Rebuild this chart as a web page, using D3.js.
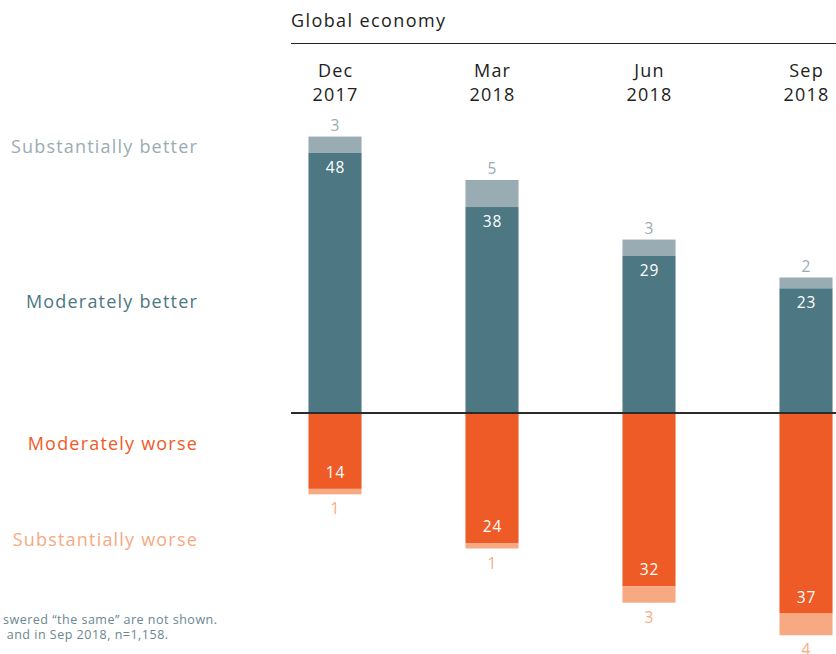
<!DOCTYPE html>
<html><head><meta charset="utf-8">
<script src="https://cdn.jsdelivr.net/npm/d3@7"></script>
<style>body{margin:0;background:#fff}svg{display:block;font-family:"Open Sans","Noto Sans",sans-serif}</style>
</head><body><svg id="c" width="836" height="654"></svg>
<script>
const periods = ["Dec\n2017", "Mar\n2018", "Jun\n2018", "Sep\n2018"];
const substBetter = [3, 5, 3, 2];
const modBetter = [48, 38, 29, 23];
const modWorse = [14, 24, 32, 37];
const substWorse = [1, 1, 3, 4];
const legendLabels = ["Substantially better", "Moderately better", "Moderately worse", "Substantially worse"];
const title = "Global economy";
const notes = ["swered \u201cthe same\u201d are not shown.", " and in Sep 2018, n=1,158."];

const C = {sb:"#9aacb3", mb:"#4c7783", mw:"#ef5b27", sw:"#f7a982", text:"#222"};
const svg = d3.select("#c");
const x = d3.scaleBand().domain(periods).range([256.5, 884.5]).paddingInner(0.662).paddingOuter(0.331);
const y = d3.scaleLinear().domain([0, 50]).range([413, 142]);

// title
svg.append("text").attr("x", 291).attr("y", 27).attr("font-size", 18).attr("letter-spacing", 1.4).attr("fill", C.text).text(title);
svg.append("line").attr("x1", 291).attr("x2", 836).attr("y1", 43.5).attr("y2", 43.5).attr("stroke", "#222").attr("stroke-width", 1);

// column labels
periods.forEach(p => {
  const t = svg.append("text").attr("text-anchor", "middle").attr("font-size", 18).attr("letter-spacing", 1.2).attr("fill", C.text);
  p.split("\n").forEach((s, i) => t.append("tspan").attr("x", x(p) + x.bandwidth()/2 + 0.6).attr("y", 77 + i*24).text(s));
});

const g = svg.append("g").attr("font-size", 15.5).attr("letter-spacing", 0.8).attr("text-anchor", "middle");
periods.forEach((p, i) => {
  const bx = x(p), bw = x.bandwidth(), cx = bx + bw/2 + 0.4;
  const yMB = y(modBetter[i]), ySB = y(modBetter[i] + substBetter[i]);
  const yMW = y(-modWorse[i]), ySW = y(-modWorse[i] - substWorse[i]);
  g.append("rect").attr("x", bx).attr("width", bw).attr("y", ySB).attr("height", yMB - ySB).attr("fill", C.sb);
  g.append("rect").attr("x", bx).attr("width", bw).attr("y", yMB).attr("height", y(0) - yMB).attr("fill", C.mb);
  g.append("rect").attr("x", bx).attr("width", bw).attr("y", y(0)).attr("height", yMW - y(0)).attr("fill", C.mw);
  g.append("rect").attr("x", bx).attr("width", bw).attr("y", yMW).attr("height", ySW - yMW).attr("fill", C.sw);
  g.append("text").attr("x", cx).attr("y", ySB - 6).attr("fill", C.sb).text(substBetter[i]);
  g.append("text").attr("x", cx).attr("y", yMB + 20).attr("fill", "#fff").text(modBetter[i]);
  g.append("text").attr("x", cx).attr("y", yMW - 11).attr("fill", "#fff").text(modWorse[i]);
  g.append("text").attr("x", cx).attr("y", ySW + 20).attr("fill", C.sw).text(substWorse[i]);
});

svg.append("line").attr("x1", 291).attr("x2", 836).attr("y1", y(0)).attr("y2", y(0)).attr("stroke", "#2b2b2b").attr("stroke-width", 2);

// legend labels
const lc = [C.sb, C.mb, C.mw, C.sw], ly = [153, 308, 450, 546];
legendLabels.forEach((l, i) => svg.append("text").attr("x", 198).attr("y", ly[i]).attr("text-anchor", "end").attr("font-size", 18).attr("letter-spacing", 1.2).attr("fill", lc[i]).text(l));

// notes
notes.forEach((n, i) => svg.append("text").attr("x", 3).attr("y", 624 + i*15).attr("font-size", 12.5).attr("letter-spacing", 0.5).attr("fill", "#6b8791").attr("xml:space", "preserve").text(n));
</script></body></html>
